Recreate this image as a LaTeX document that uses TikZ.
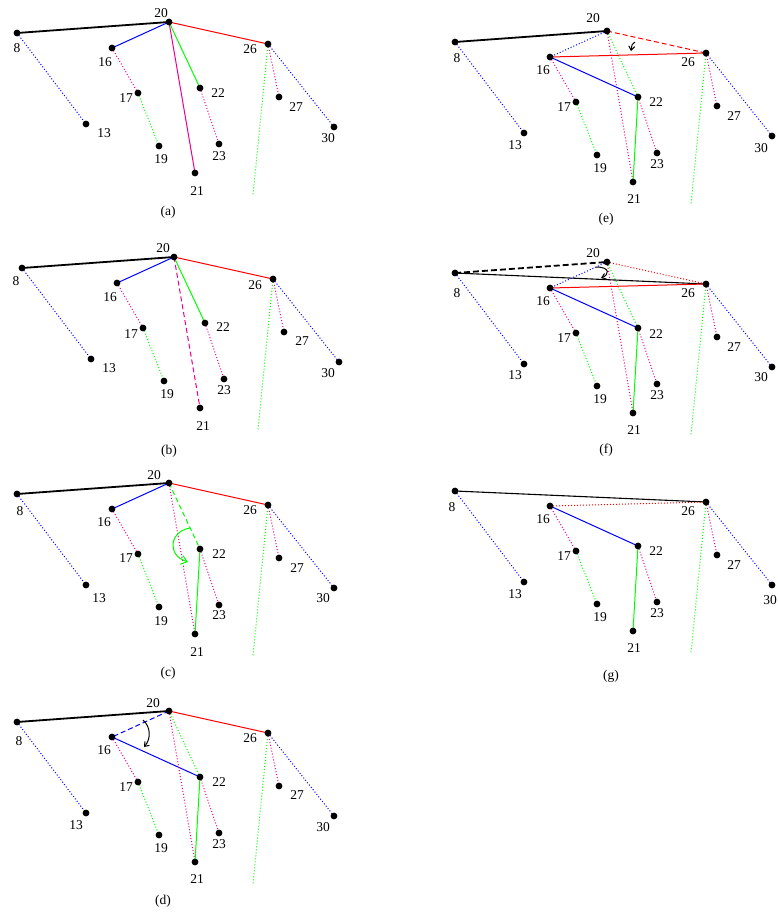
\documentclass[tikz,border=0pt]{standalone}
\usepackage{fontspec}
\setmainfont{Liberation Serif}
\usetikzlibrary{calc,arrows.meta}
\newcommand\pts[1]{%
 \coordinate (#1n8) at (17,33);
 \coordinate (#1n13) at (86,124);
 \coordinate (#1n16) at (112,48);
 \coordinate (#1n17) at (138,93);
 \coordinate (#1n19) at (159,146);
 \coordinate (#1n20) at (169,22);
 \coordinate (#1n21) at (195,173);
 \coordinate (#1n22) at (200,88);
 \coordinate (#1n23) at (219,144);
 \coordinate (#1n26) at (268,44);
 \coordinate (#1n27) at (279,97);
 \coordinate (#1n30) at (334,127);
 \coordinate (#1gend) at (253,195);}
\newcommand\putdots[2]{\foreach \k in {#2} {\fill (#1n\k) circle[radius=3.4pt];}}
\newcommand\common[1]{%
 \draw[dotl,blue] (#1n8) -- (#1n13);
 \draw[dotl,magenta] (#1n16) -- (#1n17);
 \draw[dotl,green] (#1n17) -- (#1n19);
 \draw[dotl,magenta] (#1n22) -- (#1n23);
 \draw[dotl,magenta] (#1n26) -- (#1n27);
 \draw[dotl,blue] (#1n26) -- (#1n30);
 \draw[dotl,green] (#1n26) -- (#1gend);}
\newcommand\lb[4]{\node[lab] at ($(#1n#2)+(#3,#4)$) {#2};}
\begin{document}
\begin{tikzpicture}[x=1pt,y=-1pt,
 lab/.style={font=\fontsize{13.5}{14}\selectfont, inner sep=0pt},
 captxt/.style={font=\fontsize{13.5}{14}\selectfont, inner sep=0pt},
 thk/.style={line width=1.8pt},
 sol/.style={line width=1pt},
 thin1/.style={line width=1.1pt},
 dotl/.style={line width=1pt, dash pattern=on 1pt off 2pt},
 dsh/.style={line width=1pt, dash pattern=on 5pt off 3pt},
 barb/.style={-{Straight Barb[length=4pt,width=6pt]}}]
\useasboundingbox (0,0) rectangle (777,918);

% ---------- (a)
\begin{scope}
 \pts{a}
 \common{a}
 \draw[thk,black] (an8) -- (an20);
 \draw[sol,blue] (an20) -- (an16);
 \draw[sol,red] (an20) -- (an26);
 \draw[sol,green] (an20) -- (an22);
 \draw[sol,magenta] (an20) -- (an21);
 \putdots{a}{8,13,16,17,19,20,21,22,23,26,27,30}
 \lb{a}{20}{-8}{-9} \lb{a}{8}{0}{15} \lb{a}{16}{-7}{14} \lb{a}{26}{-18}{5}
 \lb{a}{17}{-12}{5} \lb{a}{22}{18}{5} \lb{a}{27}{17}{10} \lb{a}{13}{18}{9}
 \lb{a}{19}{2}{13} \lb{a}{23}{0}{12} \lb{a}{30}{-6}{11} \lb{a}{21}{2}{18}
 \node[captxt] (capa) at (168,212) {(a)};
\end{scope}

% ---------- (b)
\begin{scope}[shift={(5,235)}]
 \pts{b}
 \common{b}
 \draw[thk,black] (bn8) -- (bn20);
 \draw[sol,blue] (bn20) -- (bn16);
 \draw[sol,red] (bn20) -- (bn26);
 \draw[sol,green] (bn20) -- (bn22);
 \draw[dsh,magenta] (bn20) -- (bn21);
 \putdots{b}{8,13,16,17,19,20,21,22,23,26,27,30}
 \lb{b}{20}{-11}{-9} \lb{b}{8}{-6}{13} \lb{b}{16}{-7}{14} \lb{b}{26}{-18}{6}
 \lb{b}{17}{-12}{6} \lb{b}{22}{18}{4} \lb{b}{27}{18}{9} \lb{b}{13}{18}{9}
 \lb{b}{19}{3}{13} \lb{b}{23}{0}{11} \lb{b}{30}{-11}{11} \lb{b}{21}{3}{18}
 \node[captxt] (capb) at (164,216) {(b)};
\end{scope}

% ---------- (c)
\begin{scope}[shift={(0,461)}]
 \pts{c}
 \common{c}
 \draw[thk,black] (cn8) -- (cn20);
 \draw[sol,blue] (cn20) -- (cn16);
 \draw[sol,red] (cn20) -- (cn26);
 \draw[dotl,magenta] (cn20) -- (cn21);
 \draw[dsh,green] (cn20) -- (cn22);
 \draw[sol,green] (cn22) -- (cn21);
 \coordinate (carcs) at (190,67);
 \coordinate (carce) at (188,101);
 \draw[sol,green,-{Straight Barb[length=6pt,width=9pt]}] (carcs) .. controls (170,70) and (166,94) .. (carce);
 \putdots{c}{8,13,16,17,19,20,21,22,23,26,27,30}
 \lb{c}{20}{-15}{-8} \lb{c}{8}{3}{17} \lb{c}{16}{-8}{13} \lb{c}{26}{-18}{5}
 \lb{c}{17}{-12}{4} \lb{c}{22}{19}{5} \lb{c}{27}{18}{10} \lb{c}{13}{13}{13}
 \lb{c}{19}{2}{14} \lb{c}{23}{0}{10} \lb{c}{30}{-11}{10} \lb{c}{21}{2}{18}
 \node[captxt] (capc) at (168,212) {(c)};
\end{scope}

% ---------- (d)
\begin{scope}[shift={(0,689)}]
 \pts{d}
 \common{d}
 \draw[thk,black] (dn8) -- (dn20);
 \draw[dsh,blue] (dn20) -- (dn16);
 \draw[sol,blue] (dn16) -- (dn22);
 \draw[sol,red] (dn20) -- (dn26);
 \draw[dotl,magenta] (dn20) -- (dn21);
 \draw[dotl,green] (dn20) -- (dn22);
 \draw[sol,green] (dn22) -- (dn21);
 \coordinate (darcs) at (143,31);
 \coordinate (darce) at (144,58);
 \draw[sol,black,barb] (darcs) .. controls (151,38) and (151,50) .. (darce);
 \putdots{d}{8,13,16,17,19,20,21,22,23,26,27,30}
 \lb{d}{20}{-16}{-8} \lb{d}{8}{2}{19} \lb{d}{16}{-8}{13} \lb{d}{26}{-18}{5}
 \lb{d}{17}{-12}{5} \lb{d}{22}{19}{5} \lb{d}{27}{18}{9} \lb{d}{13}{-10}{12}
 \lb{d}{19}{2}{13} \lb{d}{23}{0}{11} \lb{d}{30}{-11}{11} \lb{d}{21}{2}{17}
 \node[captxt] (capd) at (163,212) {(d)};
\end{scope}

% ---------- (e)
\begin{scope}[shift={(438,9)}]
 \pts{e}
 \common{e}
 \draw[thk,black] (en8) -- (en20);
 \draw[dsh,red] (en20) -- (en26);
 \draw[dotl,blue] (en20) -- (en16);
 \draw[dotl,magenta] (en20) -- (en21);
 \draw[dotl,green] (en20) -- (en22);
 \draw[sol,red] (en16) -- (en26);
 \draw[sol,blue] (en16) -- (en22);
 \draw[sol,green] (en22) -- (en21);
 \coordinate (earcs) at (197,33);
 \coordinate (earce) at (193,42);
 \draw[sol,black,barb] (earcs) .. controls (194,35) .. (earce);
 \putdots{e}{8,13,16,17,19,20,21,22,23,26,27,30}
 \lb{e}{20}{-14}{-13} \lb{e}{8}{2}{16} \lb{e}{16}{-7}{13} \lb{e}{26}{-18}{9}
 \lb{e}{17}{-12}{5} \lb{e}{22}{18}{5} \lb{e}{27}{17}{10} \lb{e}{13}{-9}{12}
 \lb{e}{19}{3}{13} \lb{e}{23}{0}{11} \lb{e}{30}{-11}{12} \lb{e}{21}{1}{17}
 \node[captxt] (cape) at (168,210) {(e)};
\end{scope}

% ---------- (f)
\begin{scope}[shift={(438,240)}]
 \pts{f}
 \common{f}
 \draw[line width=1.8pt,black,dash pattern=on 6pt off 3pt] (fn8) -- (fn20);
 \draw[thin1,black] (fn8) -- (fn26);
 \draw[dotl,red] (fn20) -- (fn26);
 \draw[dotl,blue] (fn20) -- (fn16);
 \draw[dotl,magenta] (fn20) -- (fn21);
 \draw[dotl,green] (fn20) -- (fn22);
 \draw[sol,red] (fn16) -- (fn26);
 \draw[sol,blue] (fn16) -- (fn22);
 \draw[sol,green] (fn22) -- (fn21);
 \coordinate (farcs) at (158,27);
 \coordinate (farce) at (163,38);
 \draw[sol,black,barb] (farcs) .. controls (173,27) and (171,35) .. (farce);
 \putdots{f}{8,13,16,17,19,20,21,22,23,26,27,30}
 \lb{f}{20}{-14}{-9} \lb{f}{8}{2}{20} \lb{f}{16}{-7}{13} \lb{f}{26}{-18}{9}
 \lb{f}{17}{-12}{5} \lb{f}{22}{18}{6} \lb{f}{27}{17}{10} \lb{f}{13}{-9}{11}
 \lb{f}{19}{3}{13} \lb{f}{23}{0}{11} \lb{f}{30}{-11}{10} \lb{f}{21}{1}{17}
 \node[captxt] (capf) at (168,210) {(f)};
\end{scope}

% ---------- (g)
\begin{scope}[shift={(438,458)}]
 \pts{g}
 \common{g}
 \draw[thin1,black] (gn8) -- (gn26);
 \draw[dotl,red] (gn16) -- (gn26);
 \draw[sol,blue] (gn16) -- (gn22);
 \draw[sol,green] (gn22) -- (gn21);
 \putdots{g}{8,13,16,17,19,21,22,23,26,27,30}
 \lb{g}{8}{-3}{16} \lb{g}{16}{-7}{13} \lb{g}{26}{-18}{9}
 \lb{g}{17}{-12}{5} \lb{g}{22}{18}{5} \lb{g}{27}{17}{10} \lb{g}{13}{-9}{12}
 \lb{g}{19}{3}{13} \lb{g}{23}{0}{11} \lb{g}{30}{-2}{15} \lb{g}{21}{1}{17}
 \node[captxt] (capg) at (173,218) {(g)};
\end{scope}
\end{tikzpicture}
\end{document}
